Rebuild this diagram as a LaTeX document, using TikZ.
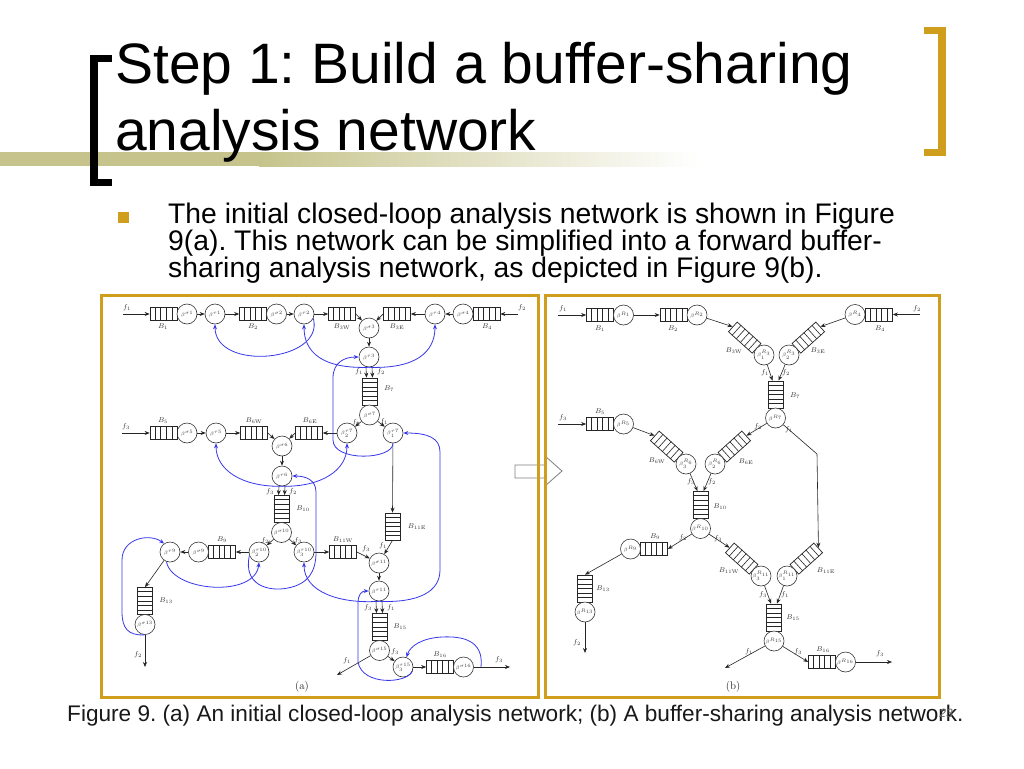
\documentclass[tikz,border=0pt]{standalone}
\usepackage{fontspec}
\newfontfamily\slidefont{Liberation Sans}
\usetikzlibrary{arrows.meta,calc}
\frenchspacing
\definecolor{gold}{RGB}{207,158,28}
\definecolor{band}{RGB}{198,196,140}
\definecolor{blueline}{RGB}{55,55,235}
\newcommand{\qh}[3]{\node[hbufbox] (#1) at (#2,#3) {};
  \foreach \f in {0.2,0.4,0.6,0.8} \draw[cellline] ($(#1.south west)!\f!(#1.south east)$) -- ($(#1.north west)!\f!(#1.north east)$);}
\newcommand{\qv}[3]{\node[vbufbox] (#1) at (#2,#3) {};
  \foreach \f in {0.1667,0.3333,0.5,0.6667,0.8333} \draw[cellline] ($(#1.north west)!\f!(#1.south west)$) -- ($(#1.north east)!\f!(#1.south east)$);}
\newcommand{\qt}[4]{\node[tbufbox, rotate=#4] (#1) at (#2,#3) {};
  \foreach \f in {0.1667,0.3333,0.5,0.6667,0.8333} \draw[cellline] ($(#1.south west)!\f!(#1.south east)$) -- ($(#1.north west)!\f!(#1.north east)$);}
\tikzset{
  circ/.style={circle, draw=black!80, line width=0.6pt, fill=white, minimum size=20pt, inner sep=0pt, font=\fontsize{5.5}{6}\selectfont, text=black!75},
  hbufbox/.style={draw=black!85, line width=0.7pt, fill=white, minimum width=27pt, minimum height=13pt, inner sep=0pt},
  vbufbox/.style={draw=black!85, line width=0.7pt, fill=white, minimum width=15pt, minimum height=27pt, inner sep=0pt},
  tbufbox/.style={draw=black!85, line width=0.7pt, fill=white, minimum width=32pt, minimum height=13pt, inner sep=0pt},
  cellline/.style={draw=black!85, line width=0.6pt},
  arr/.style={draw=black!85, line width=0.6pt, -{Stealth[length=5pt,width=4pt]}},
  bl/.style={draw=blueline, line width=0.8pt, -{Stealth[length=5pt,width=4pt]}},
  lab/.style={font=\fontsize{7.5}{8}\selectfont, inner sep=0pt, text=black!80},
  sublab/.style={font=\fontsize{11}{11}\selectfont, inner sep=0pt, text=black!85},
  titletext/.style={font=\slidefont\fontsize{57}{57}\selectfont, inner sep=0pt, anchor=base west},
  bodytext/.style={font=\slidefont\fontsize{28.3}{27}\selectfont, inner sep=0pt, anchor=base west},
  captext/.style={font=\slidefont\fontsize{22.6}{22.6}\selectfont, inner sep=0pt, anchor=base west, text=black!90},
  frame/.style={draw=gold, line width=3pt},
  midarrow/.style={draw=black!50, line width=0.8pt, fill=white},
}
\begin{document}
\begin{tikzpicture}[x=1pt,y=-1pt]
\useasboundingbox (0,0) rectangle (1024,768);
\fill[white] (0,0) rectangle (1024,768);
% header decoration
\fill[band] (0,152) rectangle (260,166);
\shade[left color=band, right color=white] (259,152) rectangle (700,166);
\fill[black] (90,55) rectangle (98,186);
\fill[black] (90,55) rectangle (112,62);
\fill[black] (90,179) rectangle (112,186);
\fill[gold] (938,27) rectangle (946,156);
\fill[gold] (924,27) rectangle (946,34);
\fill[gold] (924,149) rectangle (946,156);
\node[titletext] (title1) at (115,83) {Step 1: Build a buffer-sharing};
\node[titletext] (title2) at (115,150) {analysis network};
\node[fill=gold, minimum size=11pt, inner sep=0pt] (bullet) at (123.5,217.5) {};
\node[bodytext] (body1) at (168,223) {The initial closed-loop analysis network is shown in Figure};
\node[bodytext] (body2) at (168,250) {9(a). This network can be simplified into a forward buffer-};
\node[bodytext] (body3) at (168,277) {sharing analysis network, as depicted in Figure 9(b).};

% middle hollow arrow
\draw[midarrow] (515,465) -- (545,465) -- (545,456) -- (562,471) -- (545,486) -- (545,478) -- (515,478) -- cycle;

% ================= diagram (a) =================
\coordinate (af1) at (123,314);
\node[lab] (laf1) at (127,308) {$f_1$};
\qh{aB1}{163.5}{314}
\node[lab] (laB1) at (163,327) {$B_1$};
\node[circ] (as1) at (187,314) {$\beta^{\sigma 1}$};
\node[circ] (at1) at (215,314) {$\beta^{\tau 1}$};
\qh{aB2}{253}{314}
\node[lab] (laB2) at (253,327) {$B_2$};
\node[circ] (as2) at (276.5,314) {$\beta^{\sigma 2}$};
\node[circ] (at2) at (304,314) {$\beta^{\tau 2}$};
\qh{aB3W}{342}{314}
\node[lab] (laB3W) at (342,327) {$B_{3\mathrm{W}}$};
\node[circ] (as3) at (369,328) {$\beta^{\sigma 3}$};
\qh{aB3E}{397}{314}
\node[lab] (laB3E) at (397,327) {$B_{3\mathrm{E}}$};
\node[circ] (at4) at (435,314) {$\beta^{\tau 4}$};
\node[circ] (as4) at (463,314) {$\beta^{\sigma 4}$};
\qh{aB4}{486.5}{314}
\node[lab] (laB4) at (487,327) {$B_4$};
\coordinate (af2) at (518,314);
\node[lab] (laf2) at (522,308) {$f_2$};
\draw[arr] (af1) -- (aB1);
\draw[arr] (as1) -- (at1);
\draw[arr] (at1) -- (aB2);
\draw[arr] (as2) -- (at2);
\draw[arr] (at2) -- (aB3W);
\draw[arr] (aB3W.east) -- (as3);
\draw[arr] (aB3E.west) -- (as3);
\draw[arr] (at4) -- (aB3E);
\draw[arr] (as4) -- (at4);
\draw[arr] (af2) -- (aB4);

\node[circ] (at3) at (369,357) {$\beta^{\tau 3}$};
\draw[arr] (as3) -- (at3);
\qv{aB7}{369.5}{391.5}
\draw[arr] ([xshift=-3pt]at3.south) -- ([xshift=-3pt]aB7.north);
\draw[arr] ([xshift=3pt]at3.south) -- ([xshift=3pt]aB7.north);
\node[lab] (laf1b) at (359,372) {$f_1$};
\node[lab] (laf2b) at (381,372) {$f_2$};
\node[lab] (laB7) at (389,389) {$B_7$};
\node[circ] (as7) at (369.5,415) {$\beta^{\sigma 7}$};
\node[circ] (at7b) at (347,433) {$\beta_2^{\tau 7}$};
\node[circ] (at7a) at (393,433) {$\beta_1^{\tau 7}$};
\draw[arr] (as7) -- (at7b);
\draw[arr] (as7) -- (at7a);
\node[lab] (laf2c) at (356,423) {$f_2$};
\node[lab] (laf1c) at (384,422) {$f_1$};
\qh{aB6E}{309}{433}
\node[lab] (laB6E) at (310,421) {$B_{6\mathrm{E}}$};
\draw[arr] (at7b) -- (aB6E);
\node[circ] (as6) at (282,446) {$\beta^{\sigma 6}$};
\draw[arr] (aB6E.west) -- (as6);
\qh{aB6W}{254}{433}
\node[lab] (laB6W) at (254,421) {$B_{6\mathrm{W}}$};
\draw[arr] (aB6W.east) -- (as6);
\node[circ] (at5) at (216,433) {$\beta^{\tau 5}$};
\draw[arr] (at5) -- (aB6W);
\node[circ] (as5) at (187,433) {$\beta^{\sigma 5}$};
\draw[arr] (as5) -- (at5);
\qh{aB5}{163.5}{433}
\node[lab] (laB5) at (163,421) {$B_5$};
\coordinate (af3) at (122,433);
\node[lab] (laf3) at (126,427) {$f_3$};
\draw[arr] (af3) -- (aB5);
\node[circ] (at6) at (282,476) {$\beta^{\tau 6}$};
\draw[arr] (as6) -- (at6);
\qv{aB10}{281.5}{509}
\draw[arr] ([xshift=-3pt]at6.south) -- ([xshift=-3pt]aB10.north);
\draw[arr] ([xshift=3pt]at6.south) -- ([xshift=3pt]aB10.north);
\node[lab] (laf3b) at (270,492) {$f_3$};
\node[lab] (laf2d) at (293,492) {$f_2$};
\node[lab] (laB10) at (303,509) {$B_{10}$};
\node[circ] (as10) at (281.5,532.5) {$\beta^{\sigma 10}$};
\node[circ] (at10b) at (259,552) {$\beta_2^{\tau 10}$};
\node[circ] (at10c) at (304,552) {$\beta_3^{\tau 10}$};
\draw[arr] (as10) -- (at10b);
\draw[arr] (as10) -- (at10c);
\node[lab] (laf2e) at (265,541) {$f_2$};
\node[lab] (laf3c) at (298,541) {$f_3$};
\qh{aB9}{222}{552}
\node[lab] (laB9) at (222,540) {$B_9$};
\draw[arr] (at10b) -- (aB9);
\node[circ] (as9) at (198.5,552) {$\beta^{\sigma 9}$};
\node[circ] (at9) at (170,552) {$\beta^{\tau 9}$};
\draw[arr] (as9) -- (at9);
\qv{aB13}{145}{601}
\node[lab] (laB13) at (166,601) {$B_{13}$};
\draw[arr] (at9) -- (aB13.north);
\node[circ] (as13) at (145,624.5) {$\beta^{\sigma 13}$};
\coordinate (af2o) at (145,667);
\draw[arr] (as13) -- (af2o);
\node[lab] (laf2f) at (138,655) {$f_2$};
\qh{aB11W}{343}{552}
\node[lab] (laB11W) at (343,540) {$B_{11\mathrm{W}}$};
\draw[arr] (at10c) -- (aB11W);
\node[circ] (as11) at (379,563) {$\beta^{\sigma 11}$};
\draw[arr] (aB11W.east) -- (as11);
\node[lab] (laf3d) at (366,549) {$f_3$};
\qv{aB11E}{392.5}{526.5}
\draw[arr] (at7a) -- (aB11E.north);
\node[lab] (laB11E) at (417,527) {$B_{11\mathrm{E}}$};
\draw[arr] (aB11E.south) -- (as11);
\node[lab] (laf1d) at (383,546) {$f_1$};
\node[circ] (at11) at (379,591) {$\beta^{\tau 11}$};
\draw[arr] (as11) -- (at11);
\qv{aB15}{379.5}{627}
\draw[arr] ([xshift=-3pt]at11.south) -- ([xshift=-3pt]aB15.north);
\draw[arr] ([xshift=3pt]at11.south) -- ([xshift=3pt]aB15.north);
\node[lab] (laf3e) at (368,608) {$f_3$};
\node[lab] (laf1e) at (391,608) {$f_1$};
\node[lab] (laB15) at (400,627) {$B_{15}$};
\node[circ] (as15) at (379.5,650.5) {$\beta^{\sigma 15}$};
\coordinate (af1o) at (337,675);
\draw[arr] (as15) -- (af1o);
\node[lab] (laf1f) at (347,661) {$f_1$};
\node[circ] (at15) at (403,667) {$\beta_3^{\tau 15}$};
\draw[arr] (as15) -- (at15);
\node[lab] (laf3f) at (395,652) {$f_3$};
\qh{aB16}{440}{667}
\node[lab] (laB16) at (440,655) {$B_{16}$};
\draw[arr] (at15) -- (aB16);
\node[circ] (as16) at (463.5,667) {$\beta^{\sigma 16}$};
\coordinate (af3o) at (510,667);
\draw[arr] (as16) -- (af3o);
\node[lab] (laf3g) at (499,660) {$f_3$};
\node[sublab] (alab) at (302,687) {(a)};

% blue feedback curves (a)
\draw[bl] (at2.-25) .. controls (325,362) and (215,372) .. (at1.south);
\draw[bl] (at3.south) .. controls (322,369) and (304,352) .. (at2.south);
\draw[bl] (at3.south) .. controls (416,369) and (435,352) .. (at4.south);
\draw[bl] (at7a.south) .. controls (393,460) and (333,462) .. (333,440) -- (333,378) .. controls (333,362) and (345,357) .. (at3.west);
\draw[bl] (at6.south) .. controls (242,487) and (216,470) .. (at5.south);
\draw[bl] (at6.south) .. controls (322,487) and (347,470) .. (at7b.south);
\draw[bl] (at10b.200) .. controls (243,585) and (268,592) .. (288,588) .. controls (308,584) and (316,572) .. (316,552) -- (316,492) .. controls (316,480) and (306,476) .. (at6.east);
\draw[bl] (at9.-110) .. controls (172,592) and (255,598) .. (at10b.south);
\draw[bl] (as13.south) .. controls (128,636) and (122,628) .. (122,612) -- (122,560) .. controls (122,538) and (150,533) .. (at9.125);
\draw[bl] (at11.south) .. controls (340,604) and (304,592) .. (at10c.south);
\draw[bl] (at11.south) .. controls (418,603) and (440,592) .. (440,570) -- (440,452) .. controls (440,438) and (428,433) .. (at7a.east);
\draw[bl] (at15.-20) .. controls (408,684) and (362,686) .. (358,662) -- (358,603) .. controls (358,594) and (362,591) .. (at11.west);
\coordinate (afb) at (481,667);
\draw[bl] (afb) .. controls (484,640) and (462,636) .. (442,637) .. controls (422,638) and (410,646) .. (at15.70);

% ================= diagram (b) =================
\coordinate (bf1) at (558,315);
\node[lab] (lbf1) at (563,309) {$f_1$};
\qh{bB1}{600}{315}
\node[lab] (lbB1) at (600,329) {$B_1$};
\node[circ] (r1) at (623.5,315) {$\beta^{R_1}$};
\draw[arr] (bf1) -- (bB1);
\qh{bB2}{673.5}{315}
\node[lab] (lbB2) at (673,329) {$B_2$};
\draw[arr] (r1) -- (bB2);
\node[circ] (r2) at (697,315) {$\beta^{R_2}$};
\qt{bB3W}{744.7}{337.6}{-42}
\draw[arr] (r2) -- (bB3W.west);
\node[circ] (r3a) at (764,355) {$\beta_1^{R_3}$};
\node[lab] (lbB3W) at (734,351) {$B_{3\mathrm{W}}$};
\qt{bB3E}{808.3}{337.6}{42}
\node[circ] (r3b) at (789,355) {$\beta_2^{R_3}$};
\node[lab] (lbB3E) at (818,351) {$B_{3\mathrm{E}}$};
\node[circ] (r4) at (855,314.5) {$\beta^{R_4}$};
\qh{bB4}{879}{314.5}
\node[lab] (lbB4) at (880,329) {$B_4$};
\coordinate (bf2) at (920,314.5);
\node[lab] (lbf2) at (917,309) {$f_2$};
\draw[arr] (bf2) -- (bB4);
\draw[arr] (r4) -- (bB3E.east);
\qv{bB7}{775.5}{394.5}
\draw[arr] (r3a) -- ([xshift=-3pt]bB7.north);
\draw[arr] (r3b) -- ([xshift=3pt]bB7.north);
\node[lab] (lbf1b) at (765,373) {$f_1$};
\node[lab] (lbf2b) at (786,373) {$f_2$};
\node[lab] (lbB7) at (795,396) {$B_7$};
\node[circ] (r7) at (775.5,418) {$\beta^{R_7}$};
\qt{bB6E}{734.3}{446.6}{42}
\node[circ] (r6b) at (715,464) {$\beta_2^{R_6}$};
\draw[arr] (r7) -- (bB6E.east);
\node[lab] (lbf2c) at (758,427) {$f_2$};
\coordinate (bf3) at (558,424);
\node[lab] (lbf3) at (563,418) {$f_3$};
\qh{bB5}{600}{424}
\node[lab] (lbB5) at (600,412) {$B_5$};
\draw[arr] (bf3) -- (bB5);
\node[circ] (r5) at (623.5,424) {$\beta^{R_5}$};
\qt{bB6W}{666.7}{446.6}{-42}
\draw[arr] (r5) -- (bB6W.west);
\node[circ] (r6a) at (686,464) {$\beta_3^{R_6}$};
\node[lab] (lbB6W) at (657,461) {$B_{6\mathrm{W}}$};
\node[lab] (lbB6E) at (746,462) {$B_{6\mathrm{E}}$};
\qv{bB10}{700.5}{505}
\draw[arr] (r6a) -- ([xshift=-3pt]bB10.north);
\draw[arr] (r6b) -- ([xshift=3pt]bB10.north);
\node[lab] (lbf3b) at (691,482) {$f_3$};
\node[lab] (lbf2d) at (712,482) {$f_2$};
\node[lab] (lbB10) at (720,507) {$B_{10}$};
\node[circ] (r10) at (700.5,528.5) {$\beta^{R_{10}}$};
\qh{bB9}{654}{549}
\node[lab] (lbB9) at (655,537) {$B_9$};
\draw[arr] (r10) -- (bB9.east);
\node[lab] (lbf2e) at (683,538) {$f_2$};
\node[circ] (r9) at (630.5,549) {$\beta^{R_9}$};
\qv{bB13}{585}{588.5}
\draw[arr] (r9) -- (bB13.north);
\node[lab] (lbB13) at (603,589) {$B_{13}$};
\node[circ] (r13) at (585,612) {$\beta^{R_{13}}$};
\coordinate (bf2o) at (585,653);
\draw[arr] (r13) -- (bf2o);
\node[lab] (lbf2f) at (577,643) {$f_2$};
\qt{bB11W}{741.7}{558.6}{-42}
\draw[arr] (r10) -- (bB11W.west);
\node[lab] (lbf3c) at (718,539) {$f_3$};
\node[circ] (r11a) at (761,576) {$\beta_3^{R_{11}}$};
\qt{bB11E}{806.3}{558.6}{42}
\node[circ] (r11b) at (787,576) {$\beta_1^{R_{11}}$};
\node[lab] (lbB11W) at (729,571) {$B_{11\mathrm{W}}$};
\node[lab] (lbB11E) at (826,571) {$B_{11\mathrm{E}}$};
\coordinate (bk) at (817,454);
\draw[arr] (r7) -- (bk) -- (bB11E.east);
\node[lab] (lbf1c) at (789,430) {$f_1$};
\qv{bB15}{774}{617.5}
\draw[arr] (r11a) -- ([xshift=-3pt]bB15.north);
\draw[arr] (r11b) -- ([xshift=3pt]bB15.north);
\node[lab] (lbf3d) at (763,595) {$f_3$};
\node[lab] (lbf1d) at (785,595) {$f_1$};
\node[lab] (lbB15) at (793,618) {$B_{15}$};
\node[circ] (r15) at (774,641) {$\beta^{R_{15}}$};
\coordinate (bf1o) at (725,668);
\draw[arr] (r15) -- (bf1o);
\node[lab] (lbf1e) at (749,652) {$f_1$};
\qh{bB16}{822}{662}
\draw[arr] (r15) -- (bB16.west);
\node[lab] (lbf3e) at (798,652) {$f_3$};
\node[lab] (lbB16) at (823,650) {$B_{16}$};
\node[circ] (r16) at (845.5,662) {$\beta^{R_{16}}$};
\coordinate (bf3o) at (892,662);
\draw[arr] (r16) -- (bf3o);
\node[lab] (lbf3f) at (880,654) {$f_3$};
\node[sublab] (blab) at (733,687) {(b)};

% frames
\draw[frame] (101,295) rectangle (538,697);
\draw[frame] (545,295) rectangle (939,697);

% caption
\node[captext] (caption) at (67,721) {Figure 9. (a) An initial closed-loop analysis network; (b) A buffer-sharing analysis network.};
\node[font=\slidefont\itshape\fontsize{12}{12}\selectfont, text=black!60, inner sep=0pt] (pagenum) at (946,713) {23};
\end{tikzpicture}
\end{document}
